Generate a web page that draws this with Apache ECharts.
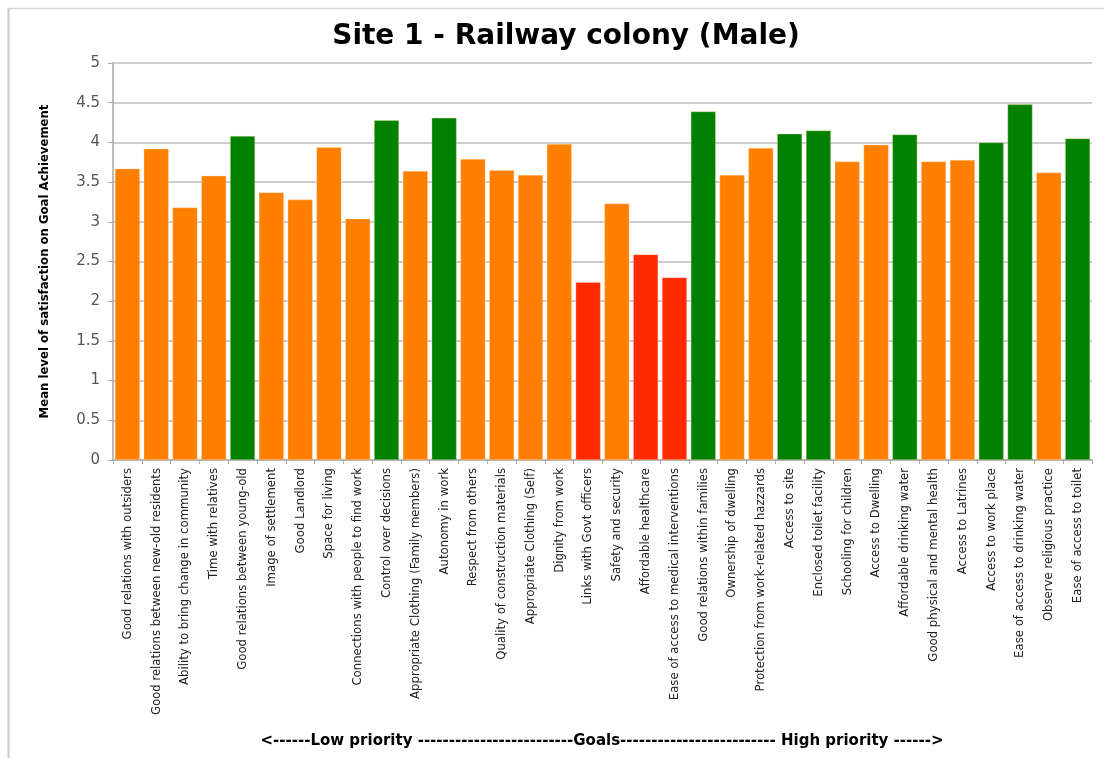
<!DOCTYPE html>
<html>
<head>
<meta charset="utf-8">
<script src="https://cdn.jsdelivr.net/npm/echarts@6/dist/echarts.min.js"></script>
<style>
  html, body { margin: 0; padding: 0; background: #fff; }
  #chart { width: 1104px; height: 758px; }
</style>
</head>
<body>
<div id="chart"></div>
<script>
// Goals, ordered from low to high priority
const goals = [
  'Good relations with outsiders',
  'Good relations between new-old residents',
  'Ability to bring change in community',
  'Time with relatives',
  'Good relations between young-old',
  'Image of settlement',
  'Good Landlord',
  'Space for living',
  'Connections with people to find work',
  'Control over decisions',
  'Appropriate Clothing (Family members)',
  'Autonomy in work',
  'Respect from others',
  'Quality of construction materials',
  'Appropriate Clothing (Self)',
  'Dignity from work',
  'Links with Govt officers',
  'Safety and security',
  'Affordable healthcare',
  'Ease of access to medical interventions',
  'Good relations within families',
  'Ownership of dwelling',
  'Protection from work-related hazzards',
  'Access to site',
  'Enclosed toilet facility',
  'Schooling for children',
  'Access to Dwelling',
  'Affordable drinking water',
  'Good physical and mental health',
  'Access to Latrines',
  'Access to work place',
  'Ease of access to drinking water',
  'Observe religious practice',
  'Ease of access to toilet'
];

// Mean level of satisfaction on goal achievement
const satisfaction = [
  3.67, 3.92, 3.18, 3.58, 4.08, 3.37, 3.28, 3.94, 3.04, 4.28,
  3.64, 4.31, 3.79, 3.65, 3.59, 3.98, 2.24, 3.23, 2.59, 2.30,
  4.39, 3.59, 3.93, 4.11, 4.15, 3.76, 3.97, 4.10, 3.76, 3.78,
  4.00, 4.48, 3.62, 4.05
];

const yTicks = [0, 0.5, 1, 1.5, 2, 2.5, 3, 3.5, 4, 4.5, 5];

const COLOR_HIGH = '#008200';
const COLOR_MID = '#FF7F00';
const COLOR_LOW = '#FF2A00';

function barColor(v) {
  if (v >= 4) return COLOR_HIGH;
  if (v < 3) return COLOR_LOW;
  return COLOR_MID;
}

const chart = echarts.init(document.getElementById('chart'), null, { renderer: 'canvas' });

const narrowFont = "'Liberation Sans Narrow', 'DejaVu Sans Condensed', 'Liberation Sans', Arial, sans-serif";
const wideFont = "'DejaVu Sans', Verdana, sans-serif";

chart.setOption({
  backgroundColor: '#ffffff',
  animation: false,
  title: {
    text: 'Site 1 - Railway colony (Male)',
    left: 561,
    top: 18,
    textAlign: 'center',
    textStyle: {
      fontFamily: wideFont,
      fontSize: 28,
      fontWeight: 'bold',
      color: '#000'
    }
  },
  grid: {
    left: 113,
    right: 12,
    top: 63,
    bottom: 298
  },
  xAxis: {
    type: 'category',
    data: goals,
    axisLine: { show: true, lineStyle: { color: '#aaaaaa', width: 1.5 } },
    axisTick: { show: true, alignWithLabel: false, length: 4, lineStyle: { color: '#aaaaaa' } },
    axisLabel: {
      interval: 0,
      rotate: 90,
      margin: 8,
      fontFamily: narrowFont,
      fontSize: 13,
      color: '#222'
    }
  },
  yAxis: {
    type: 'value',
    min: yTicks[0],
    max: yTicks[yTicks.length - 1],
    interval: 0.5,
    name: 'Mean level of satisfaction on Goal Achievement',
    nameLocation: 'middle',
    nameGap: 62,
    nameTextStyle: {
      fontFamily: narrowFont,
      fontSize: 13,
      fontWeight: 'bold',
      color: '#000'
    },
    axisLine: { show: true, lineStyle: { color: '#bbbbbb', width: 2 } },
    axisTick: { show: true, length: 5, lineStyle: { color: '#aaaaaa' } },
    splitLine: { show: true, lineStyle: { color: '#bdbdbd', width: 1.5 } },
    axisLabel: {
      margin: 13,
      fontFamily: wideFont,
      fontSize: 15,
      color: '#555',
      formatter: v => String(v)
    }
  },
  series: [{
    type: 'bar',
    barCategoryGap: '13%',
    data: satisfaction.map(v => ({ value: v, itemStyle: { color: barColor(v) } })),
    itemStyle: { borderColor: 'rgba(255,220,180,0.6)', borderWidth: 0.6 }
  }],
  graphic: [
    {
      type: 'line',
      shape: { x1: 8.5, y1: 8, x2: 8.5, y2: 758 },
      style: { stroke: '#cccccc', lineWidth: 2 }
    },
    {
      type: 'line',
      shape: { x1: 8, y1: 8.5, x2: 1104, y2: 8.5 },
      style: { stroke: '#d6d6d6', lineWidth: 1.5 }
    },
    {
      type: 'text',
      x: 602,
      y: 741,
      style: {
        text: '<------Low priority -------------------------Goals------------------------- High priority ------>',
        fontFamily: wideFont,
        fontSize: 15,
        fontWeight: 'bold',
        fill: '#000',
        align: 'center',
        verticalAlign: 'middle'
      }
    }
  ]
});
</script>
</body>
</html>
